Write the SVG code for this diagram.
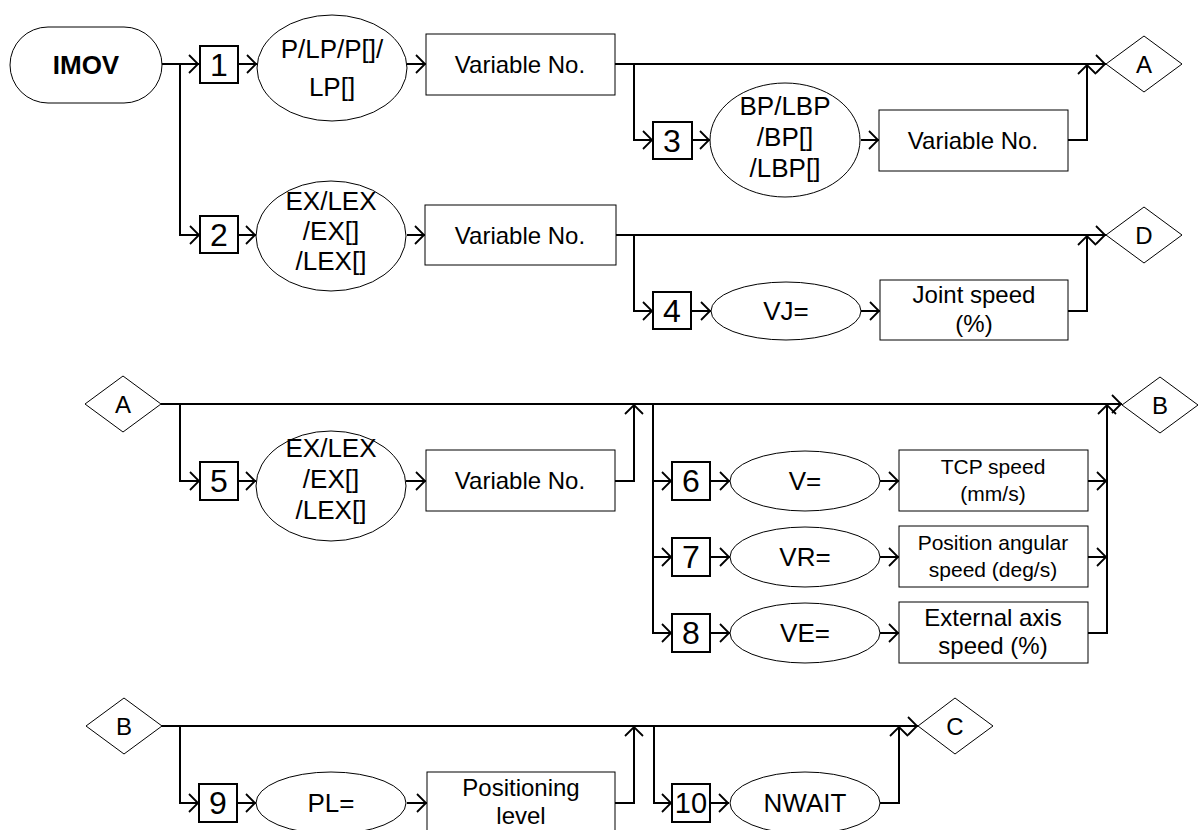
<svg xmlns="http://www.w3.org/2000/svg" width="1199" height="830" viewBox="0 0 1199 830">
<style>
.shape{fill:#fff;stroke:#000;stroke-width:1}
.num{fill:#fff;stroke:#000;stroke-width:2}
.c{fill:none;stroke:#000;stroke-width:2}
text{font-family:"Liberation Sans",Arial,sans-serif;fill:#000;text-anchor:middle}
.t24{font-size:24px}
.t21{font-size:21px}
.t26{font-size:26px}
.n{font-size:32px}
</style>
<defs>
<marker id="ar" markerUnits="userSpaceOnUse" markerWidth="14" markerHeight="22" refX="11" refY="10" orient="auto" viewBox="0 0 14 22">
<path d="M1,1 L10,10 L1,19" fill="none" stroke="#000" stroke-width="1.8"/>
</marker>
</defs>
<rect width="1199" height="830" fill="#fff"/>
<g id="connectors">
<path class="c" marker-end="url(#ar)" d="M162,64 H199"/>
<path class="c" marker-end="url(#ar)" d="M238,64 H257"/>
<path class="c" marker-end="url(#ar)" d="M407,64 H426"/>
<path class="c" marker-end="url(#ar)" d="M615,64 H1106"/>
<path class="c" marker-end="url(#ar)" d="M634,64 V140 H653"/>
<path class="c" marker-end="url(#ar)" d="M692,140 H710"/>
<path class="c" marker-end="url(#ar)" d="M861,140 H879"/>
<path class="c" marker-end="url(#ar)" d="M1068,140 H1087 V64"/>
<path class="c" marker-end="url(#ar)" d="M180,64 V235 H200"/>
<path class="c" marker-end="url(#ar)" d="M238,235 H256"/>
<path class="c" marker-end="url(#ar)" d="M407,235 H425"/>
<path class="c" marker-end="url(#ar)" d="M616,235 H1106"/>
<path class="c" marker-end="url(#ar)" d="M634,235 V311 H653"/>
<path class="c" marker-end="url(#ar)" d="M691,311 H711"/>
<path class="c" marker-end="url(#ar)" d="M861,311 H880"/>
<path class="c" marker-end="url(#ar)" d="M1068,311 H1087 V235"/>
<path class="c" marker-end="url(#ar)" d="M161,404 H1122"/>
<path class="c" marker-end="url(#ar)" d="M180,404 V481 H200"/>
<path class="c" marker-end="url(#ar)" d="M238,481 H256"/>
<path class="c" marker-end="url(#ar)" d="M406,481 H426"/>
<path class="c" marker-end="url(#ar)" d="M615,481 H634 V404"/>
<path class="c" marker-end="url(#ar)" d="M653,404 V481 H672"/>
<path class="c" marker-end="url(#ar)" d="M653,481 V557 H672"/>
<path class="c" marker-end="url(#ar)" d="M653,557 V633 H672"/>
<path class="c" marker-end="url(#ar)" d="M710,481 H730"/>
<path class="c" marker-end="url(#ar)" d="M710,557 H730"/>
<path class="c" marker-end="url(#ar)" d="M710,633 H730"/>
<path class="c" marker-end="url(#ar)" d="M880,481 H899"/>
<path class="c" marker-end="url(#ar)" d="M880,557 H899"/>
<path class="c" marker-end="url(#ar)" d="M880,633 H899"/>
<path class="c" marker-end="url(#ar)" d="M1088,481 H1107"/>
<path class="c" marker-end="url(#ar)" d="M1088,557 H1107"/>
<path class="c" marker-end="url(#ar)" d="M1088,633 H1107 V404"/>
<path class="c" marker-end="url(#ar)" d="M161,726 H918"/>
<path class="c" marker-end="url(#ar)" d="M180,726 V803 H199"/>
<path class="c" marker-end="url(#ar)" d="M237,803 H256"/>
<path class="c" marker-end="url(#ar)" d="M407,803 H427"/>
<path class="c" marker-end="url(#ar)" d="M615,803 H634 V726"/>
<path class="c" marker-end="url(#ar)" d="M654,726 V803 H672"/>
<path class="c" marker-end="url(#ar)" d="M710,803 H729"/>
<path class="c" marker-end="url(#ar)" d="M880,803 H899 V726"/>
</g>
<g id="imov"><rect class="shape" x="10" y="27" width="152" height="76" rx="38"/><text x="86" y="74" font-size="26" font-weight="bold">IMOV</text></g>
<g id="n1"><rect class="num" x="200" y="46" width="38" height="37"/><text class="n" x="219" y="76">1</text></g>
<g id="e1"><ellipse class="shape" cx="332" cy="68" rx="75" ry="53"/><text class="t26" x="332" y="58">P/LP/P[]/</text><text class="t26" x="332" y="96">LP[]</text></g>
<g id="v1"><rect class="shape" x="426" y="34" width="189" height="61"/><text class="t24" x="520" y="73">Variable No.</text></g>
<g id="n3"><rect class="num" x="653" y="122" width="39" height="37"/><text class="n" x="672" y="152">3</text></g>
<g id="e3"><ellipse class="shape" cx="785" cy="140" rx="75" ry="57"/><text class="t26" x="785" y="115">BP/LBP</text><text class="t26" x="785" y="146">/BP[]</text><text class="t26" x="785" y="177">/LBP[]</text></g>
<g id="v3"><rect class="shape" x="879" y="110" width="189" height="61"/><text class="t24" x="973" y="149">Variable No.</text></g>
<g id="dA1"><polygon class="shape" points="1106,64 1144,36 1182,64 1144,92"/><text class="t24" x="1144" y="73">A</text></g>
<g id="n2"><rect class="num" x="200" y="216" width="38" height="37"/><text class="n" x="219" y="246">2</text></g>
<g id="e2"><ellipse class="shape" cx="331" cy="236" rx="75" ry="55"/><text class="t26" x="331" y="210">EX/LEX</text><text class="t26" x="331" y="240">/EX[]</text><text class="t26" x="331" y="270">/LEX[]</text></g>
<g id="v2"><rect class="shape" x="425" y="205" width="191" height="60"/><text class="t24" x="520" y="244">Variable No.</text></g>
<g id="n4"><rect class="num" x="653" y="292" width="38" height="37"/><text class="n" x="672" y="322">4</text></g>
<g id="e4"><ellipse class="shape" cx="786" cy="311" rx="75" ry="29"/><text class="t26" x="786" y="320">VJ=</text></g>
<g id="js"><rect class="shape" x="880" y="280" width="188" height="60"/><text class="t24" x="974" y="303">Joint speed</text><text class="t24" x="974" y="332">(%)</text></g>
<g id="dD"><polygon class="shape" points="1106,235 1144,207 1182,235 1144,263"/><text class="t24" x="1144" y="244">D</text></g>
<g id="dA2"><polygon class="shape" points="85,404 123,376 161,404 123,432"/><text class="t24" x="123" y="413">A</text></g>
<g id="n5"><rect class="num" x="200" y="462" width="38" height="38"/><text class="n" x="219" y="492">5</text></g>
<g id="e5"><ellipse class="shape" cx="331" cy="486" rx="75" ry="55"/><text class="t26" x="331" y="457">EX/LEX</text><text class="t26" x="331" y="488">/EX[]</text><text class="t26" x="331" y="519">/LEX[]</text></g>
<g id="v5"><rect class="shape" x="426" y="450" width="189" height="61"/><text class="t24" x="520" y="489">Variable No.</text></g>
<g id="n6"><rect class="num" x="672" y="462" width="38" height="38"/><text class="n" x="691" y="492">6</text></g>
<g id="e6"><ellipse class="shape" cx="805" cy="481" rx="75" ry="30"/><text class="t26" x="805" y="490">V=</text></g>
<g id="tcp"><rect class="shape" x="899" y="450" width="189" height="61"/><text class="t21" x="993" y="474">TCP speed</text><text class="t21" x="993" y="501">(mm/s)</text></g>
<g id="n7"><rect class="num" x="672" y="538" width="38" height="38"/><text class="n" x="691" y="568">7</text></g>
<g id="e7"><ellipse class="shape" cx="805" cy="557" rx="75" ry="30"/><text class="t26" x="805" y="566">VR=</text></g>
<g id="pas"><rect class="shape" x="899" y="526" width="189" height="61"/><text class="t21" x="993" y="550">Position angular</text><text class="t21" x="993" y="577">speed (deg/s)</text></g>
<g id="n8"><rect class="num" x="672" y="614" width="38" height="38"/><text class="n" x="691" y="644">8</text></g>
<g id="e8"><ellipse class="shape" cx="805" cy="633" rx="75" ry="30"/><text class="t26" x="805" y="642">VE=</text></g>
<g id="eas"><rect class="shape" x="899" y="602" width="189" height="61"/><text class="t24" x="993" y="626">External axis</text><text class="t24" x="993" y="654">speed (%)</text></g>
<g id="dB1"><polygon class="shape" points="1122,405 1160,377 1198,405 1160,433"/><text class="t24" x="1160" y="414">B</text></g>
<g id="dB2"><polygon class="shape" points="86,726 124,698 162,726 124,754"/><text class="t24" x="124" y="735">B</text></g>
<g id="n9"><rect class="num" x="199" y="784" width="38" height="38"/><text class="n" x="218" y="814">9</text></g>
<g id="e9"><ellipse class="shape" cx="331" cy="803" rx="75" ry="31"/><text class="t26" x="331" y="812">PL=</text></g>
<g id="pl"><rect class="shape" x="427" y="772" width="188" height="61"/><text class="t24" x="521" y="796">Positioning</text><text class="t24" x="521" y="824">level</text></g>
<g id="n10"><rect class="num" x="672" y="784" width="38" height="38"/><text x="691" y="813" font-size="29">10</text></g>
<g id="e10"><ellipse class="shape" cx="805" cy="803" rx="75" ry="31"/><text class="t26" x="805" y="812">NWAIT</text></g>
<g id="dC"><polygon class="shape" points="918,726 955,698 993,726 955,754"/><text class="t24" x="955" y="735">C</text></g>
</svg>
